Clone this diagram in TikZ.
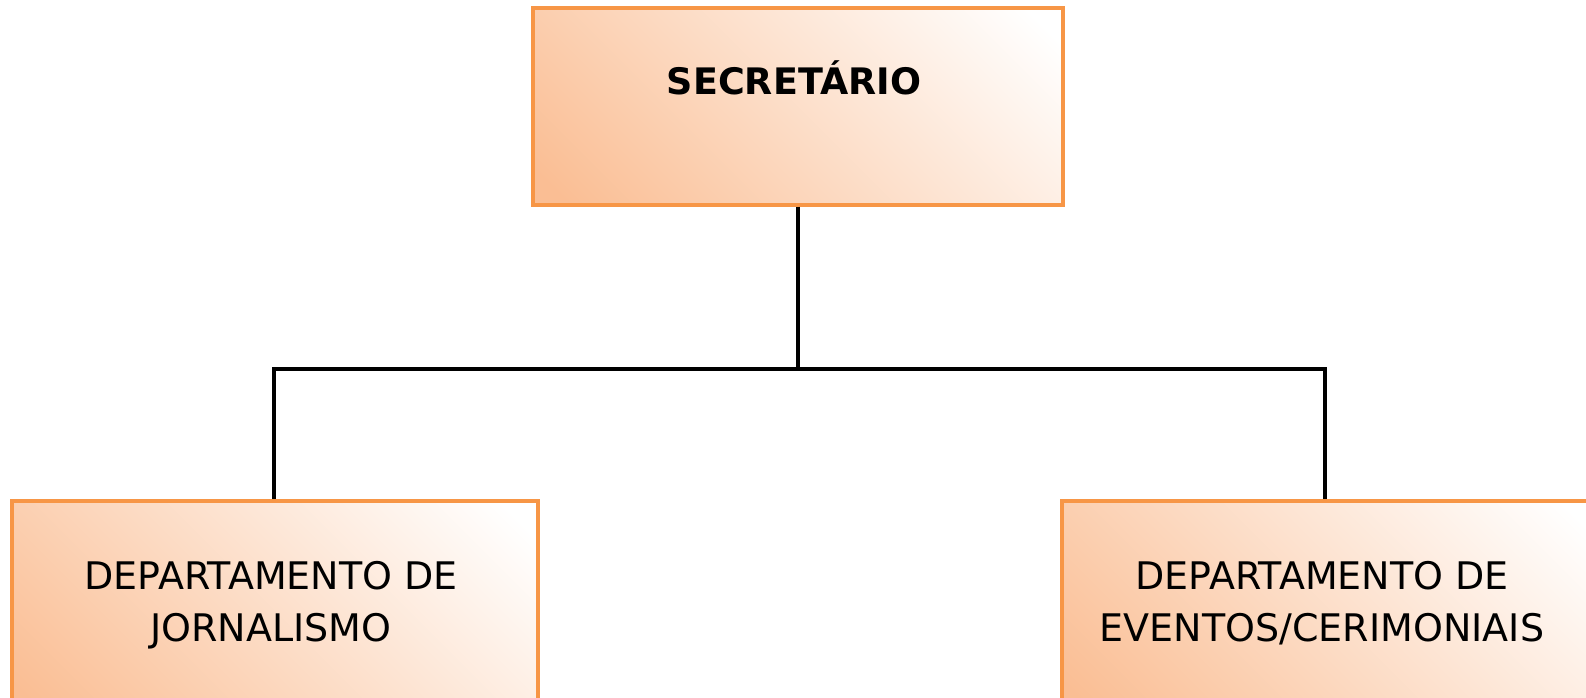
\documentclass[tikz,border=0pt]{standalone}
\usepackage{fontspec}
\setmainfont{DejaVu Sans}
\definecolor{boxedge}{RGB}{247,150,70}
\definecolor{boxfill}{RGB}{250,190,148}
\pgfdeclareverticalshading{orgshade}{100bp}{color(0bp)=(boxfill); color(18bp)=(boxfill); color(82bp)=(white); color(100bp)=(white)}
\tikzset{
  orgbox/.style={draw=boxedge, line width=3.5pt, shading=orgshade, shading angle=-45, inner sep=0pt},
  txt/.style={font=\fontsize{38}{52}\selectfont, align=center, inner sep=0pt, text=black},
  conn/.style={line width=3.5pt, draw=black}
}
\begin{document}
\begin{tikzpicture}[x=1pt,y=1pt]
\useasboundingbox (0,0) rectangle (1586,698);
\clip (0,0) rectangle (1586,698);
\node[orgbox, minimum width=530pt, minimum height=197pt] (top) at (798,591.5) {};
\node[orgbox, minimum width=526pt, minimum height=219pt] (left) at (275,87.5) {};
\node[orgbox, minimum width=538pt, minimum height=219pt] (right) at (1331,87.5) {};
\coordinate (j) at (798,329);
\draw[conn] (top.south) -- (j);
\draw[conn] ([xshift=-1pt]left.north) |- (j);
\draw[conn] ([xshift=-6pt]right.north) |- (j);
\node[txt, font=\fontsize{36.5}{44}\selectfont\bfseries, anchor=base] (t0) at (794,603) {SECRETÁRIO};
\node[txt, anchor=base] (t1) at (271,56) {DEPARTAMENTO DE\\JORNALISMO};
\node[txt, anchor=base] (t2) at (1322,56) {DEPARTAMENTO DE\\EVENTOS/CERIMONIAIS};
\end{tikzpicture}
\end{document}
